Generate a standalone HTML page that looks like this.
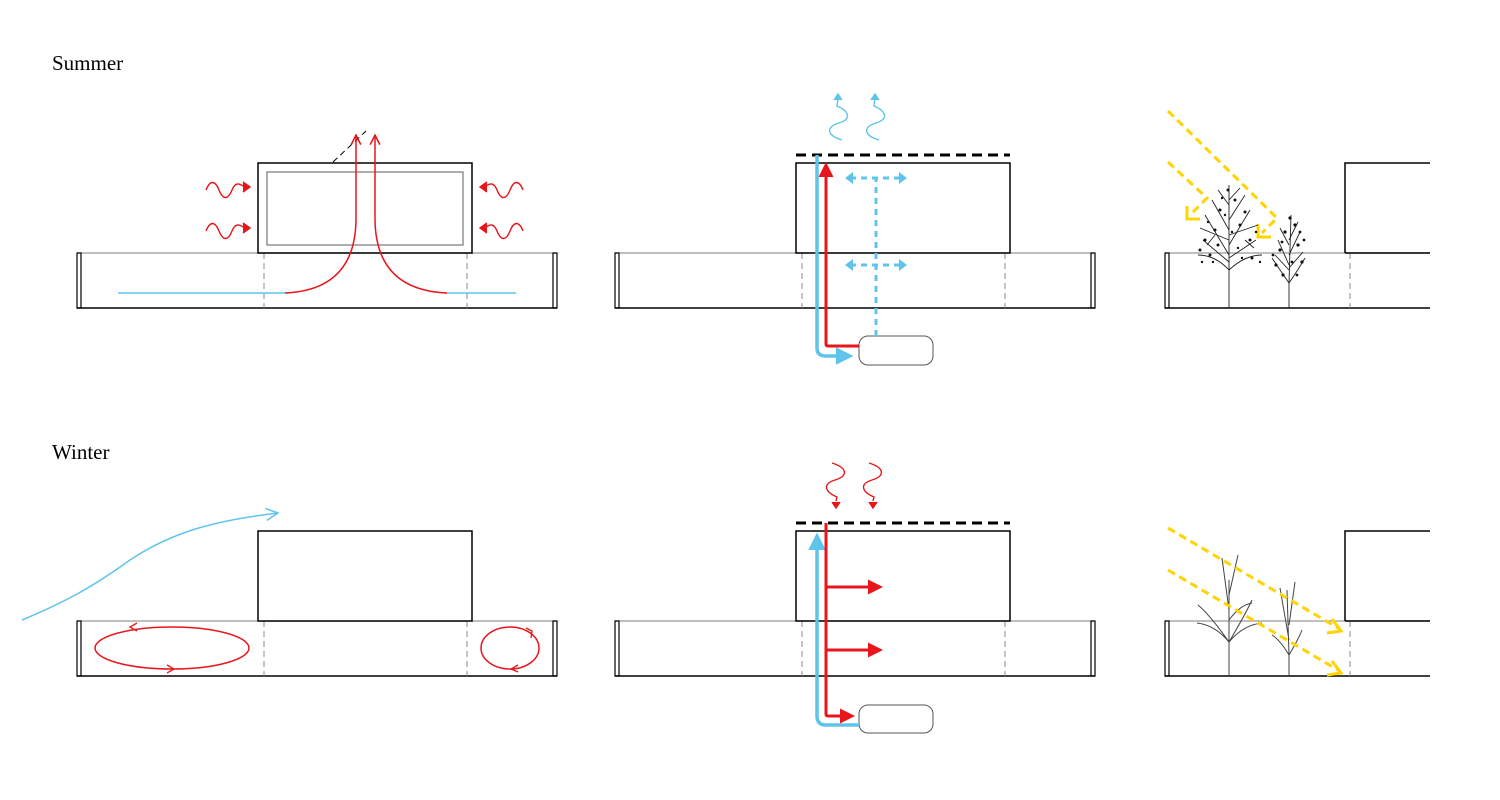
<!DOCTYPE html>
<html><head><style>body{margin:0;background:#fff}svg{display:block}</style></head><body>
<svg width="1500" height="800" viewBox="0 0 1500 800" xmlns="http://www.w3.org/2000/svg" font-family="Liberation Serif, serif">
<defs>
<marker id="ro" viewBox="0 0 10 10" refX="9" refY="5" markerWidth="8" markerHeight="8" orient="auto"><path d="M1,1 L9,5 L1,9" fill="none" stroke="#e8161b" stroke-width="1.3"/></marker>
<marker id="rs" viewBox="0 0 10 10" refX="8" refY="5" markerWidth="5" markerHeight="5" orient="auto"><path d="M0,0 L10,5 L0,10 z" fill="#e8161b"/></marker>
<marker id="bs" viewBox="0 0 10 10" refX="8" refY="5" markerWidth="5" markerHeight="5" orient="auto"><path d="M0,0 L10,5 L0,10 z" fill="#5ec4ea"/></marker>
<marker id="bo" viewBox="0 0 10 10" refX="9" refY="5" markerWidth="10" markerHeight="10" orient="auto"><path d="M1,1 L9,5 L1,9" fill="none" stroke="#5ec4ea" stroke-width="1"/></marker>
<g id="bench">
<line x1="0" y1="0" x2="480" y2="0" stroke="#999" stroke-width="1.2"/>
<line x1="0" y1="55" x2="480" y2="55" stroke="#000" stroke-width="1.5"/>
<rect x="0" y="0" width="4" height="55" fill="none" stroke="#000" stroke-width="1.2"/>
<rect x="476" y="0" width="4" height="55" fill="none" stroke="#000" stroke-width="1.2"/>
</g>
<g id="rbench">
<line x1="0" y1="0" x2="265" y2="0" stroke="#999" stroke-width="1.2"/>
<line x1="0" y1="55" x2="265" y2="55" stroke="#000" stroke-width="1.5"/>
<rect x="0" y="0" width="4" height="55" fill="none" stroke="#000" stroke-width="1.2"/>
</g>
</defs>
<text x="52" y="70" font-size="21">Summer</text>
<text x="52" y="459" font-size="21">Winter</text>

<!-- Summer col1 -->
<use href="#bench" x="77" y="253"/>
<line x1="264" y1="253" x2="264" y2="308" stroke="#888" stroke-dasharray="6,4"/>
<line x1="467" y1="253" x2="467" y2="308" stroke="#888" stroke-dasharray="6,4"/>
<rect x="258" y="163" width="214" height="90" fill="none" stroke="#000" stroke-width="1.5"/>
<rect x="267" y="172" width="196" height="73" fill="none" stroke="#777" stroke-width="1.2"/>
<line x1="333" y1="162" x2="366" y2="131" stroke="#000" stroke-dasharray="6,4"/>
<line x1="118" y1="293" x2="285" y2="293" stroke="#5ec4ea" stroke-width="1.5"/>
<line x1="447" y1="293" x2="516" y2="293" stroke="#5ec4ea" stroke-width="1.5"/>
<path d="M285,293 Q355,290 356,220 L356,135" fill="none" stroke="#e8161b" stroke-width="1.5" marker-end="url(#ro)"/>
<path d="M447,293 Q376,290 375,220 L375,135" fill="none" stroke="#e8161b" stroke-width="1.5" marker-end="url(#ro)"/>
<g fill="none" stroke="#e8161b" stroke-width="1.4">
<path d="M206,190 c4,-10 9,-10 13,0 s9,10 13,0 s9,-5 13,-3"/><path d="M243,182 l7,5 l-7,5" fill="#e8161b"/>
<path d="M206,231 c4,-10 9,-10 13,0 s9,10 13,0 s9,-5 13,-3"/><path d="M243,223 l7,5 l-7,5" fill="#e8161b"/>
<path d="M523,190 c-4,-10 -9,-10 -13,0 s-9,10 -13,0 s-9,-5 -13,-3"/><path d="M487,182 l-7,5 l7,5" fill="#e8161b"/>
<path d="M523,231 c-4,-10 -9,-10 -13,0 s-9,10 -13,0 s-9,-5 -13,-3"/><path d="M487,223 l-7,5 l7,5" fill="#e8161b"/>
</g>

<!-- Summer col2 -->
<use href="#bench" x="615" y="253"/>
<line x1="802" y1="253" x2="802" y2="308" stroke="#888" stroke-dasharray="6,4"/>
<line x1="1005" y1="253" x2="1005" y2="308" stroke="#888" stroke-dasharray="6,4"/>
<rect x="796" y="163" width="214" height="90" fill="none" stroke="#000" stroke-width="1.5"/>
<line x1="796" y1="155" x2="1010" y2="155" stroke="#000" stroke-width="3" stroke-dasharray="10,6"/>
<rect x="859" y="336" width="74" height="29" rx="9" fill="#fff" stroke="#555" stroke-width="1"/>
<path d="M817,155 L817,348 Q817,356 826,356 L850,356" fill="none" stroke="#5ec4ea" stroke-width="3.5" marker-end="url(#bs)"/>
<path d="M859,346 L828,346 Q826,346 826,344 L826,165" fill="none" stroke="#e8161b" stroke-width="3" marker-end="url(#rs)"/>
<g stroke="#5ec4ea" stroke-width="3" stroke-dasharray="6,5" fill="none">
<line x1="876" y1="336" x2="876" y2="178"/>
<line x1="850" y1="178" x2="902" y2="178"/>
<line x1="850" y1="265" x2="902" y2="265"/>
</g>
<g fill="#5ec4ea">
<path d="M845,178 l8,-6 v12z"/><path d="M907,178 l-8,-6 v12z"/>
<path d="M845,265 l8,-6 v12z"/><path d="M907,265 l-8,-6 v12z"/>
</g>
<g fill="none" stroke="#5ec4ea" stroke-width="1.4">
<path d="M842,140 c-16,-5 -16,-13 -3,-17 s10,-12 -2,-17 l1,-8"/><path d="M834,100 l4,-6 l4,6" fill="#5ec4ea"/>
<path d="M879,140 c-16,-5 -16,-13 -3,-17 s10,-12 -2,-17 l1,-8"/><path d="M871,100 l4,-6 l4,6" fill="#5ec4ea"/>
</g>

<!-- Summer col3 -->
<use href="#rbench" x="1165" y="253"/>
<line x1="1350" y1="253" x2="1350" y2="308" stroke="#888" stroke-dasharray="6,4"/>
<path d="M1345,253 L1345,163 L1430,163" fill="none" stroke="#000" stroke-width="1.5"/>
<line x1="1345" y1="253" x2="1430" y2="253" stroke="#000" stroke-width="1.5"/>
<g fill="none" stroke="#ffd400" stroke-width="3" stroke-dasharray="8,5">
<path d="M1168,111 L1277,218 L1262,233"/>
<path d="M1168,162 L1207,198 L1192,213"/>
</g>
<g fill="none" stroke="#ffd400" stroke-width="3">
<path d="M1258,224 L1258,237 L1271,237"/>
<path d="M1187,206 L1187,219 L1200,219"/>
</g>
<g stroke="#222" stroke-width="0.9" fill="none">
<line x1="1229" y1="308" x2="1229" y2="270"/>
<path d="M1229,270 Q1215,255 1198,255 M1229,270 Q1245,255 1262,255 M1229,270 L1229,185 M1229,255 L1205,215 M1229,245 L1250,210 M1229,230 L1212,200 M1229,220 L1245,195 M1229,262 L1203,240 M1229,258 L1256,240 M1229,240 L1200,228 M1229,235 L1258,225 M1229,205 L1218,190 M1229,200 L1240,188 M1215,235 L1207,245 M1245,240 L1254,248"/>
<line x1="1289" y1="308" x2="1289" y2="283"/>
<path d="M1289,283 Q1280,270 1272,258 M1289,283 Q1298,270 1305,258 M1289,283 L1291,215 M1289,265 L1278,240 M1289,255 L1300,232 M1289,245 L1280,228 M1289,240 L1298,222 M1289,270 L1275,255 M1289,268 L1303,252"/>
</g>
<g fill="#111">
<circle cx="1205" cy="240" r="1.5"/><circle cx="1215" cy="230" r="1.5"/><circle cx="1240" cy="225" r="1.5"/><circle cx="1250" cy="240" r="1.5"/><circle cx="1220" cy="210" r="1.5"/><circle cx="1235" cy="200" r="1.5"/><circle cx="1210" cy="255" r="1.5"/><circle cx="1252" cy="258" r="1.5"/><circle cx="1228" cy="190" r="1.5"/><circle cx="1200" cy="250" r="1.5"/><circle cx="1245" cy="212" r="1.5"/><circle cx="1218" cy="245" r="1.5"/>
<circle cx="1208" cy="222" r="1.2"/><circle cx="1225" cy="215" r="1.2"/><circle cx="1238" cy="248" r="1.2"/><circle cx="1256" cy="232" r="1.2"/><circle cx="1202" cy="262" r="1.2"/><circle cx="1260" cy="262" r="1.2"/><circle cx="1232" cy="232" r="1.2"/><circle cx="1222" cy="198" r="1.2"/><circle cx="1242" cy="258" r="1.2"/><circle cx="1213" cy="262" r="1.2"/>
<circle cx="1280" cy="250" r="1.6"/><circle cx="1298" cy="245" r="1.6"/><circle cx="1285" cy="232" r="1.6"/><circle cx="1295" cy="225" r="1.6"/><circle cx="1276" cy="265" r="1.6"/><circle cx="1302" cy="262" r="1.6"/><circle cx="1290" cy="218" r="1.6"/><circle cx="1283" cy="275" r="1.6"/>
<circle cx="1273" cy="255" r="1.4"/><circle cx="1304" cy="240" r="1.4"/><circle cx="1292" cy="262" r="1.4"/><circle cx="1282" cy="242" r="1.4"/><circle cx="1297" cy="275" r="1.4"/><circle cx="1300" cy="232" r="1.4"/>
</g>

<!-- Winter col1 -->
<use href="#bench" x="77" y="621"/>
<line x1="264" y1="621" x2="264" y2="676" stroke="#888" stroke-dasharray="6,4"/>
<line x1="467" y1="621" x2="467" y2="676" stroke="#888" stroke-dasharray="6,4"/>
<rect x="258" y="531" width="214" height="90" fill="#fff" stroke="#000" stroke-width="1.5"/>
<path d="M22,620 C70,600 95,585 130,560 C175,530 220,520 278,513" fill="none" stroke="#5ec4ea" stroke-width="1.5" marker-end="url(#bo)"/>
<ellipse cx="172" cy="648" rx="77" ry="21" fill="none" stroke="#e8161b" stroke-width="1.5"/>
<ellipse cx="510" cy="648" rx="29" ry="21" fill="none" stroke="#e8161b" stroke-width="1.5"/>
<g fill="none" stroke="#e8161b" stroke-width="1.3">
<path d="M137,623 l-7,4 l7,4"/><path d="M167,665 l7,4 l-7,4"/>
<path d="M526,628 l6,3 l-1,7"/><path d="M518,665 l-7,4 l7,3"/>
</g>

<!-- Winter col2 -->
<use href="#bench" x="615" y="621"/>
<line x1="802" y1="621" x2="802" y2="676" stroke="#888" stroke-dasharray="6,4"/>
<line x1="1005" y1="621" x2="1005" y2="676" stroke="#888" stroke-dasharray="6,4"/>
<rect x="796" y="531" width="214" height="90" fill="none" stroke="#000" stroke-width="1.5"/>
<line x1="796" y1="523" x2="1010" y2="523" stroke="#000" stroke-width="3" stroke-dasharray="10,6"/>
<rect x="859" y="705" width="74" height="28" rx="9" fill="#fff" stroke="#555" stroke-width="1"/>
<path d="M859,725 L826,725 Q817,725 817,716 L817,536" fill="none" stroke="#5ec4ea" stroke-width="3.5" marker-end="url(#bs)"/>
<path d="M826,523 L826,714 Q826,716 828,716 L852,716" fill="none" stroke="#e8161b" stroke-width="3" marker-end="url(#rs)"/>
<line x1="826" y1="587" x2="880" y2="587" stroke="#e8161b" stroke-width="3" marker-end="url(#rs)"/>
<line x1="826" y1="650" x2="880" y2="650" stroke="#e8161b" stroke-width="3" marker-end="url(#rs)"/>
<g fill="none" stroke="#e8161b" stroke-width="1.4">
<path d="M832,463 c16,5 16,13 3,17 s-10,12 2,17 l-1,4"/><path d="M832,502 l4,6 l4,-6" fill="#e8161b"/>
<path d="M869,463 c16,5 16,13 3,17 s-10,12 2,17 l-1,4"/><path d="M869,502 l4,6 l4,-6" fill="#e8161b"/>
</g>

<!-- Winter col3 -->
<use href="#rbench" x="1165" y="621"/>
<line x1="1350" y1="621" x2="1350" y2="676" stroke="#888" stroke-dasharray="6,4"/>
<path d="M1345,621 L1345,531 L1430,531" fill="none" stroke="#000" stroke-width="1.5"/>
<line x1="1345" y1="621" x2="1430" y2="621" stroke="#000" stroke-width="1.5"/>
<g stroke="#444" stroke-width="1" fill="none">
<line x1="1229" y1="676" x2="1229" y2="642"/>
<path d="M1229,642 Q1215,625 1197,623 M1229,642 Q1243,625 1262,623 M1229,642 L1229,580 M1229,642 Q1210,615 1198,605 M1229,642 Q1245,615 1252,600 M1229,610 L1222,558 M1229,595 L1238,555 M1229,620 Q1240,605 1252,603"/>
<line x1="1289" y1="676" x2="1289" y2="655"/>
<path d="M1289,655 Q1280,640 1272,635 M1289,655 Q1298,640 1302,630 M1289,655 L1287,590 M1289,640 L1280,588 M1289,625 L1295,582"/>
</g>
<g fill="none" stroke="#ffd400" stroke-width="3" stroke-dasharray="8,5">
<line x1="1168" y1="528" x2="1338" y2="628"/>
<line x1="1168" y1="570" x2="1338" y2="670"/>
</g>
<g fill="none" stroke="#ffd400" stroke-width="3">
<path d="M1332,619 L1341,631 L1327,633"/>
<path d="M1332,661 L1341,673 L1327,675"/>
</g>
</svg>
</body></html>
